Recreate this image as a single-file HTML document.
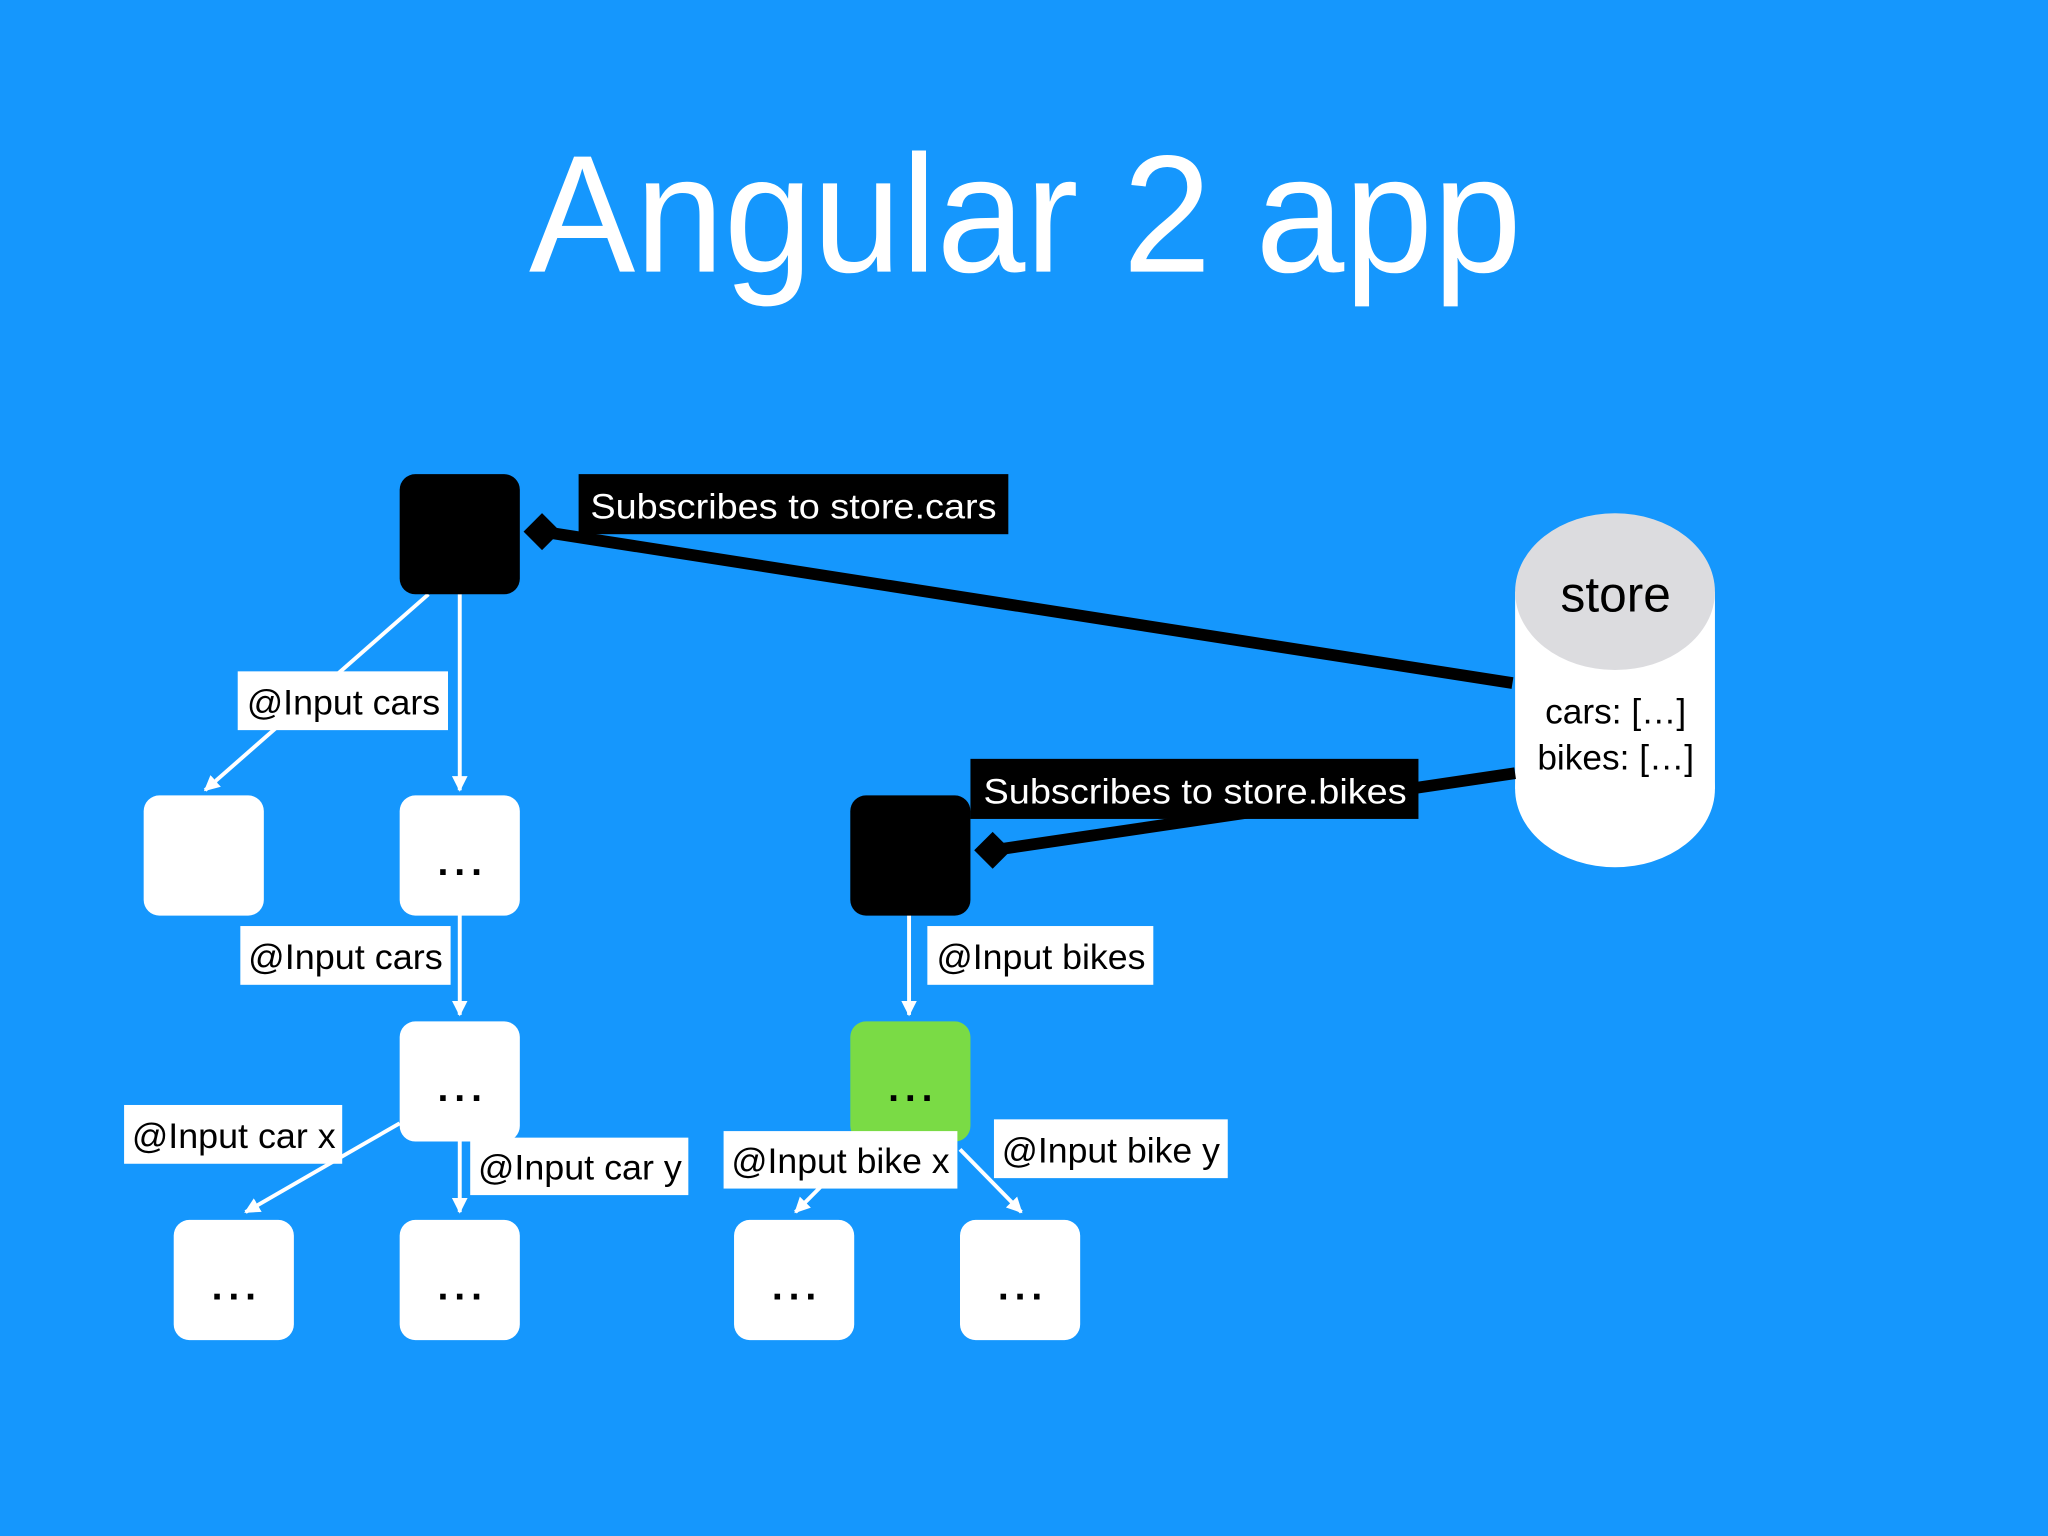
<!DOCTYPE html>
<html><head><meta charset="utf-8"><style>
html,body{margin:0;padding:0;background:#1597FD;}
svg{display:block}
text{font-family:"Liberation Sans",Arial,sans-serif}
</style></head><body>
<svg width="2048" height="1536" viewBox="0 0 1568 1176" xmlns="http://www.w3.org/2000/svg">
<defs>
<marker id="ah" viewBox="0 0 10 10" refX="9" refY="5" markerWidth="4" markerHeight="4" orient="auto"><path d="M0,0 L10,5 L0,10 z" fill="#fff"/></marker>
</defs>
<rect width="1568" height="1176" fill="#1597FD"/>
<text x="785" y="208" font-size="128" fill="#fff" text-anchor="middle" textLength="760" lengthAdjust="spacingAndGlyphs">Angular 2 app</text>

<rect x="1160" y="453" width="153" height="151" fill="#fff"/>
<ellipse cx="1236.5" cy="604" rx="76.5" ry="60" fill="#fff"/>
<ellipse cx="1236.5" cy="453" rx="76.5" ry="60" fill="#DCDCDF"/>
<text x="1237" y="468" font-size="38" fill="#000" text-anchor="middle">store</text>
<text x="1237" y="554" font-size="27" fill="#000" text-anchor="middle">cars: […]</text>
<text x="1237" y="589" font-size="27" fill="#000" text-anchor="middle">bikes: […]</text>

<line x1="1158" y1="523" x2="415" y2="407" stroke="#000" stroke-width="9"/>
<rect x="405" y="397" width="20" height="20" fill="#000" transform="rotate(45 415 407)"/>
<line x1="1160" y1="592" x2="760" y2="651" stroke="#000" stroke-width="9"/>
<rect x="750" y="641" width="20" height="20" fill="#000" transform="rotate(45 760 651)"/>

<g stroke="#fff" stroke-width="3" fill="none" marker-end="url(#ah)">
<line x1="328" y1="455" x2="157" y2="605"/>
<line x1="352" y1="455" x2="352" y2="605"/>
<line x1="352" y1="700" x2="352" y2="777"/>
<line x1="306" y1="860" x2="188" y2="928"/>
<line x1="352" y1="873" x2="352" y2="928"/>
<line x1="696" y1="700" x2="696" y2="777"/>
<line x1="632" y1="905" x2="609" y2="928"/>
<line x1="735" y1="880" x2="782" y2="928"/>
</g>

<g>
<rect x="306" y="363" width="92" height="92" rx="12" fill="#000"/>
<rect x="110" y="609" width="92" height="92" rx="12" fill="#fff"/>
<rect x="306" y="609" width="92" height="92" rx="12" fill="#fff"/>
<rect x="306" y="782" width="92" height="92" rx="12" fill="#fff"/>
<rect x="133" y="934" width="92" height="92" rx="12" fill="#fff"/>
<rect x="306" y="934" width="92" height="92" rx="12" fill="#fff"/>
<rect x="651" y="609" width="92" height="92" rx="12" fill="#000"/>
<rect x="651" y="782" width="92" height="92" rx="12" fill="#7ADB45"/>
<rect x="562" y="934" width="92" height="92" rx="12" fill="#fff"/>
<rect x="735" y="934" width="92" height="92" rx="12" fill="#fff"/>
</g>
<g font-size="30" font-weight="bold" fill="#000" text-anchor="middle">
<text x="352" y="670" textLength="34" lengthAdjust="spacing">...</text>
<text x="352" y="843" textLength="34" lengthAdjust="spacing">...</text>
<text x="179" y="995" textLength="34" lengthAdjust="spacing">...</text>
<text x="352" y="995" textLength="34" lengthAdjust="spacing">...</text>
<text x="697" y="843" textLength="34" lengthAdjust="spacing">...</text>
<text x="608" y="995" textLength="34" lengthAdjust="spacing">...</text>
<text x="781" y="995" textLength="34" lengthAdjust="spacing">...</text>
</g>

<rect x="443" y="363" width="329" height="46" fill="#000"/>
<text x="452" y="397" font-size="27" fill="#fff" textLength="311" lengthAdjust="spacingAndGlyphs">Subscribes to store.cars</text>
<rect x="743" y="581" width="343" height="46" fill="#000"/>
<text x="753" y="615" font-size="27" fill="#fff" textLength="324" lengthAdjust="spacingAndGlyphs">Subscribes to store.bikes</text>

<g font-size="27" fill="#000">
<rect x="182" y="514" width="161" height="45" fill="#fff"/>
<text x="189" y="547" textLength="148" lengthAdjust="spacingAndGlyphs">@Input cars</text>
<rect x="184" y="709" width="161" height="45" fill="#fff"/>
<text x="190" y="742" textLength="149" lengthAdjust="spacingAndGlyphs">@Input cars</text>
<rect x="95" y="846" width="167" height="45" fill="#fff"/>
<text x="101" y="879" textLength="156" lengthAdjust="spacingAndGlyphs">@Input car x</text>
<rect x="360" y="871" width="167" height="44" fill="#fff"/>
<text x="366" y="903" textLength="156" lengthAdjust="spacingAndGlyphs">@Input car y</text>
<rect x="710" y="709" width="173" height="45" fill="#fff"/>
<text x="717" y="742" textLength="160" lengthAdjust="spacingAndGlyphs">@Input bikes</text>
<rect x="554" y="866" width="179" height="44" fill="#fff"/>
<text x="560" y="898" textLength="167" lengthAdjust="spacingAndGlyphs">@Input bike x</text>
<rect x="761" y="857" width="179" height="45" fill="#fff"/>
<text x="767" y="890" textLength="167" lengthAdjust="spacingAndGlyphs">@Input bike y</text>
</g>
</svg>
</body></html>
